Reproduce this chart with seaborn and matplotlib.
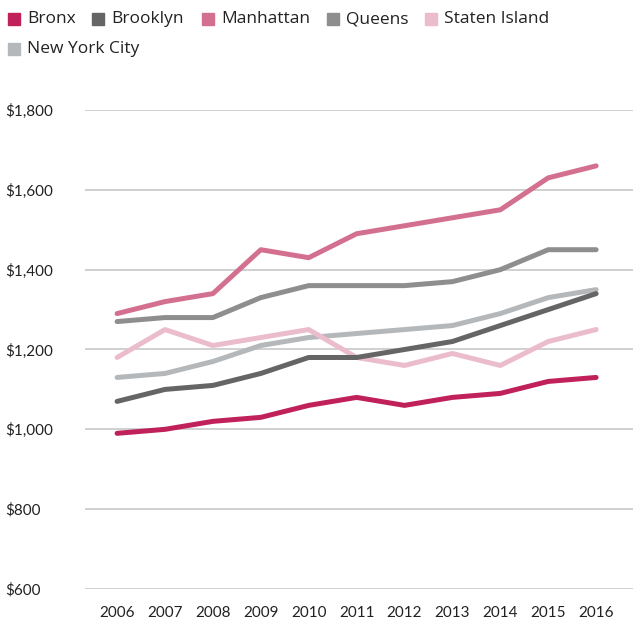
import matplotlib
matplotlib.use("Agg")
import matplotlib.pyplot as plt
from matplotlib.patches import Rectangle
import seaborn as sns
import pandas as pd

years = [2006, 2007, 2008, 2009, 2010, 2011, 2012, 2013, 2014, 2015, 2016]
bronx = [990, 1000, 1020, 1030, 1060, 1080, 1060, 1080, 1090, 1120, 1130]
brooklyn = [1070, 1100, 1110, 1140, 1180, 1180, 1200, 1220, 1260, 1300, 1340]
manhattan = [1290, 1320, 1340, 1450, 1430, 1490, 1510, 1530, 1550, 1630, 1660]
queens = [1270, 1280, 1280, 1330, 1360, 1360, 1360, 1370, 1400, 1450, 1450]
staten_island = [1180, 1250, 1210, 1230, 1250, 1180, 1160, 1190, 1160, 1220, 1250]
new_york_city = [1130, 1140, 1170, 1210, 1230, 1240, 1250, 1260, 1290, 1330, 1350]

series_names = ["Bronx", "Brooklyn", "Manhattan", "Queens", "Staten Island", "New York City"]
series_values = [bronx, brooklyn, manhattan, queens, staten_island, new_york_city]
colors = ["#c0215a", "#656565", "#d4708f", "#8e8e8e", "#ebbdcc", "#b5b8ba"]
y_ticks = [600, 800, 1000, 1200, 1400, 1600, 1800]
y_tick_labels = ["$600", "$800", "$1,000", "$1,200", "$1,400", "$1,600", "$1,800"]

rows = []
for name, vals in zip(series_names, series_values):
    for yr, v in zip(years, vals):
        rows.append({"year": yr, "rent": v, "borough": name})
df = pd.DataFrame(rows)

sns.set_theme(style="white")
plt.rcParams["font.family"] = ["Lato", "DejaVu Sans"]

fig = plt.figure(figsize=(6.33, 6.19), dpi=100)
ax = fig.add_axes([85 / 633, 30 / 619, 548 / 633, 479 / 619])

palette = dict(zip(series_names, colors))
draw_order = ["New York City", "Staten Island", "Queens", "Manhattan", "Brooklyn", "Bronx"]
sns.lineplot(data=df, x="year", y="rent", hue="borough", hue_order=draw_order,
             palette=palette, linewidth=3.6, legend=False, ax=ax,
             solid_capstyle="round", solid_joinstyle="round")

ax.set_xlim(2005.33, 2016.77)
ax.set_ylim(600, 1800)
ax.set_yticks(y_ticks)
ax.set_yticklabels(y_tick_labels)
ax.set_xticks(years)
ax.set_xticklabels([str(y) for y in years])
ax.set_xlabel("")
ax.set_ylabel("")
for s in ax.spines.values():
    s.set_visible(False)
ax.grid(axis="y", color="#c8c8c8", linewidth=1.2)
ax.grid(axis="x", visible=False)
ax.set_axisbelow(True)
ax.tick_params(axis="y", length=0, pad=57.6, labelsize=11, labelcolor="#222222")
ax.tick_params(axis="x", length=0, pad=12, labelsize=11, labelcolor="#222222")
for lab in ax.get_yticklabels():
    lab.set_horizontalalignment("left")

# legend, drawn manually in figure pixel coordinates
W, H = 633, 619
legend_items = [
    ("Bronx", 8, 19), ("Brooklyn", 92, 19), ("Manhattan", 202, 19),
    ("Queens", 327, 19), ("Staten Island", 425, 19), ("New York City", 8, 49),
]
for (name, x0, yc) in legend_items:
    fig.patches.append(Rectangle((x0 / W, (H - yc - 6) / H), 12 / W, 12 / H,
                                 transform=fig.transFigure, color=palette[name]))
    fig.text((x0 + 19) / W, (H - yc) / H, name, fontsize=12.5, va="center", ha="left",
             color="#222222", family=["Open Sans", "DejaVu Sans"])

fig.savefig("out.png", dpi=100)
